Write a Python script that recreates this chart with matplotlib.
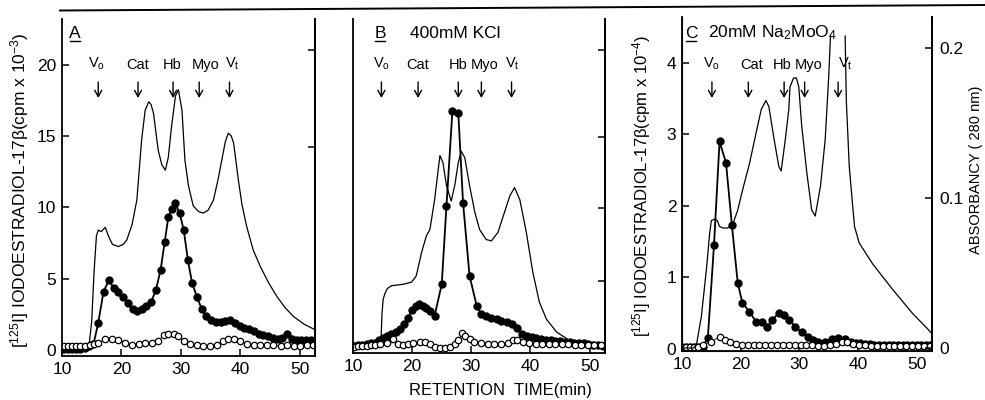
import numpy as np
import matplotlib
matplotlib.use("Agg")
import matplotlib.pyplot as plt
from matplotlib.lines import Line2D
from matplotlib.transforms import blended_transform_factory

plt.rcParams['font.family'] = ['Liberation Sans', 'DejaVu Sans']
plt.rcParams['mathtext.fontset'] = 'custom'
plt.rcParams['mathtext.rm'] = 'Liberation Sans'
plt.rcParams['mathtext.it'] = 'Liberation Sans:italic'

nan = np.nan

# ---- panel A (cpm x 10^-3) ----
a_abs_t = [10, 12, 14.0, 14.6, 15.0, 15.4, 15.8, 16.1, 16.6, 17.3, 17.8, 18.5, 19.5, 20.3, 20.9,
           21.8, 22.6, 23.4, 24.0, 24.6, 25.0, 25.4, 26.2, 26.8, 27.4, 27.9, 28.4, 29.1, 29.6,
           30.2, 30.7, 31.3, 32.1, 33.0, 33.8, 34.6, 35.5, 36.3, 36.9, 37.5, 38.0, 38.5, 38.9,
           39.7, 40.3, 41.1, 42.2, 43.4, 44.8, 46.2, 47.6, 49.0, 50.8, 52.7]
a_abs_v = [0.2, 0.2, 0.25, 0.5, 2.0, 5.5, 8.0, 8.4, 8.3, 8.6, 8.0, 7.4, 7.25, 7.4, 7.7,
           8.8, 10.5, 14.7, 16.8, 17.4, 17.2, 16.6, 14.0, 13.0, 12.6, 13.5, 15.5, 17.8, 18.25,
           16.8, 13.3, 11.5, 10.1, 9.7, 9.6, 9.8, 10.5, 12.0, 13.3, 14.6, 15.2, 15.0, 14.5,
           11.9, 10.2, 8.65, 7.0, 5.85, 4.7, 3.74, 2.95, 2.34, 1.8, 1.4]

a_fill_t = [10.3, 11.0, 11.7, 12.4, 13.1, 13.8, 14.5, 15.3, 16.1, 17.0, 17.9, 18.7, 19.5, 20.3,
            21.1, 21.9, 22.6, 23.4, 24.2, 25.0, 25.8, 26.6, 27.3, 27.9, 28.5, 29.1, 29.8, 30.5,
            31.2, 31.9, 32.7, 33.5, 34.3, 35.1, 35.9, 36.7, 37.5, 38.3, 39.1, 39.9, 40.7, 41.5,
            42.3, 43.1, 43.9, 44.7, 45.5, 46.3, 47.1, 47.9, 48.7, 49.5, 50.3, 51.1, 51.9]
a_fill_v = [0.05, 0.05, 0.05, 0.05, 0.1, 0.15, 0.25, 0.4, 1.9, 4.1, 4.9, 4.35, 4.1, 3.7,
            3.3, 2.85, 2.75, 2.9, 3.1, 3.35, 4.2, 5.6, 7.6, 9.3, 9.9, 10.3, 9.6, 8.4,
            6.3, 4.7, 3.75, 2.9, 2.4, 2.1, 1.95, 1.95, 2.05, 2.1, 1.9, 1.65, 1.55, 1.45,
            1.35, 1.15, 1.05, 0.95, 0.85, 0.8, 0.85, 1.1, 0.75, 0.7, 0.7, 0.7, 0.7]

a_open_t = [10.3, 11.0, 11.7, 12.4, 13.1, 13.8, 14.7, 15.4, 16.1, 17.2, 18.4, 19.5, 20.6, 21.75,
            22.9, 24.0, 25.1, 26.2, 27.1, 27.9, 28.8, 29.6, 30.5, 31.6, 32.7, 33.8, 35.0, 36.1,
            37.1, 38.0, 38.9, 40.0, 41.1, 42.3, 43.4, 44.5, 45.6, 46.8, 47.9, 49.0, 50.1, 51.3, 52.2]
a_open_v = [0.25, 0.3, 0.3, 0.3, 0.3, 0.3, 0.35, 0.45, 0.5, 0.75, 0.8, 0.7, 0.47, 0.35,
            0.4, 0.47, 0.5, 0.63, 1.05, 1.15, 1.15, 0.98, 0.6, 0.4, 0.35, 0.3, 0.3, 0.35,
            0.6, 0.75, 0.75, 0.6, 0.4, 0.35, 0.35, 0.35, 0.35, 0.3, 0.35, 0.3, 0.3, 0.35, 0.35]

# ---- panel B (400 mM KCl) ----
b_abs_t = [10, 13, 14.7, 14.9, 15.1, 15.4, 15.8, 16.5, 17.5, 18.5, 19.9, 20.7, 21.6, 22.4, 23.0,
           23.8, 24.4, 24.7, 25.2, 25.8, 26.6, 27.2, 27.8, 28.3, 28.9, 29.7, 30.6, 31.4, 32.5,
           33.4, 34.5, 35.6, 36.5, 37.3, 38.2, 39.3, 40.4, 41.5, 42.7, 44.4, 46.6, 48.8, 51.1, 52.5]
b_abs_v = [0.1, 0.15, 0.2, 2.5, 3.5, 3.9, 4.25, 4.45, 4.5, 4.55, 4.7, 5.15, 6.8, 7.95, 8.4,
           10.5, 12.6, 13.6, 13.1, 11.5, 10.4, 11.5, 13.1, 13.9, 13.45, 11.5, 9.6, 8.4, 7.7,
           7.6, 8.2, 9.6, 10.75, 11.35, 10.5, 8.2, 5.4, 3.3, 2.1, 1.2, 0.6, 0.25, 0.2, 0.2]

b_fill_t = [10.2, 10.9, 11.6, 12.3, 13.0, 13.7, 14.4, 15.1, 15.8, 16.5, 17.2, 17.9, 18.6, 19.3,
            20.0, 20.6, 21.2, 21.8, 22.4, 23.1, 23.8, 25.0, 25.8, 26.8, 27.8, 28.6, 29.7, 30.9,
            31.7, 32.5, 33.4, 34.3, 35.1, 36.0, 36.8, 37.7, 38.5, 39.4, 40.2, 41.0, 41.8, 42.6,
            43.4, 44.2, 45.0, 45.8, 46.6, 47.4, 48.2, 49.0, 49.8, 50.6, 51.4, 52.2]
b_fill_v = [0.2, 0.25, 0.3, 0.35, 0.4, 0.45, 0.6, 0.8, 0.9, 1.05, 1.2, 1.4, 1.75, 2.2,
            2.75, 3.05, 3.15, 3.05, 2.9, 2.7, 2.35, 4.55, 10.05, 16.7, 16.6, 10.3, 5.15, 3.05,
            2.45, 2.35, 2.2, 2.1, 2.0, 1.9, 1.75, 1.5, 1.05, 0.95, 0.85, 0.75, 0.7, 0.65,
            0.6, 0.55, 0.55, 0.5, 0.5, 0.45, 0.45, 0.4, 0.35, 0.3, 0.25, 0.2]

b_open_t = [10.2, 10.9, 11.6, 12.3, 13.0, 13.7, 14.6, 15.7, 16.8, 17.6, 18.5, 19.3, 20.2, 21.3,
            22.2, 23.0, 23.8, 24.7, 25.5, 26.4, 27.2, 27.8, 28.5, 28.9, 29.7, 30.5, 31.7, 32.8,
            33.9, 35.1, 36.2, 37.0, 37.8, 38.7, 39.8, 40.9, 42.0, 43.1, 44.2, 45.3, 46.4, 47.5,
            48.6, 49.7, 50.8, 51.9]
b_open_v = [0.15, 0.2, 0.2, 0.2, 0.25, 0.3, 0.35, 0.45, 0.7, 0.35, 0.28, 0.35, 0.4, 0.47,
            0.47, 0.35, 0.12, 0.1, 0.05, 0.12, 0.35, 0.6, 1.1, 0.95, 0.7, 0.5, 0.4, 0.35,
            0.35, 0.35, 0.4, 0.6, 0.65, 0.5, 0.4, 0.35, 0.35, 0.35, 0.35, 0.35, 0.35, 0.3,
            0.3, 0.3, 0.3, 0.3]

# ---- panel C (20 mM Na2MoO4), cpm x 10^-4 and absorbance ----
c_abs_t = [10, 12.0, 12.5, 13.3, 14.2, 14.7, 15.0, 15.6, 16.0, 16.4, 17.0, 17.8, 18.7, 19.5,
           20.3, 21.5, 22.6, 23.5, 24.3, 24.8, 25.7, 26.5, 26.9, 27.6, 28.2, 28.4, 29.0, 29.5,
           29.9, 30.4, 31.3, 32.1, 32.7, 33.6, 34.4, 35.0, 35.3, 36.5, 37.8, 38.0, 38.5, 39.1,
           39.4, 40.2, 42.5, 45.9, 49.3, 51.8, 52.5]
c_abs_v = [0.0, 0.0, 0.003, 0.021, 0.054, 0.076, 0.085, 0.086, 0.085, 0.081, 0.080, 0.080, 0.083, 0.092,
           0.105, 0.123, 0.143, 0.159, 0.165, 0.161, 0.139, 0.121, 0.118, 0.139, 0.159, 0.174, 0.180, 0.180,
           0.174, 0.148, 0.116, 0.092, 0.088, 0.108, 0.139, 0.181, 0.208, nan, 0.208, 0.165, 0.121, 0.094,
           0.081, 0.070, 0.056, 0.039, 0.023, 0.013, 0.010]

c_fill_t = [10.0, 10.7, 11.4, 12.1, 12.8, 13.5, 14.4, 15.45, 16.4, 17.5, 18.5, 19.5, 20.3, 21.5,
            22.6, 23.7, 24.5, 25.4, 26.5, 27.3, 28.2, 29.3, 30.4, 31.5, 32.4, 33.2, 34.3, 35.5,
            36.6, 37.7, 38.8, 39.6, 40.4, 41.2, 42.0, 42.8, 43.6, 44.4, 45.2, 46.0, 46.8, 47.6,
            48.4, 49.2, 50.0, 50.8, 51.6, 52.3]
c_fill_v = [0.02, 0.02, 0.02, 0.02, 0.02, 0.03, 0.15, 1.45, 2.9, 2.6, 1.73, 0.92, 0.64, 0.52,
            0.38, 0.38, 0.3, 0.41, 0.5, 0.48, 0.41, 0.31, 0.23, 0.16, 0.13, 0.09, 0.1, 0.14,
            0.15, 0.14, 0.1, 0.08, 0.08, 0.07, 0.07, 0.06, 0.06, 0.06, 0.05, 0.05, 0.05, 0.05,
            0.05, 0.05, 0.05, 0.05, 0.05, 0.05]

c_open_t = [10.0, 10.7, 11.4, 12.1, 12.8, 13.6, 15.0, 16.4, 17.25, 18.1, 19.2, 20.2, 21.2, 22.2,
            23.2, 24.2, 25.2, 26.2, 27.2, 28.2, 29.2, 30.2, 31.2, 32.2, 33.2, 34.2, 35.2, 36.2,
            37.2, 38.2, 39.2, 40.2, 41.2, 42.2, 43.2, 44.2, 45.2, 46.2, 47.2, 48.2, 49.2, 50.2,
            51.2, 52.2]
c_open_v = [0.02, 0.02, 0.02, 0.02, 0.02, 0.06, 0.1, 0.17, 0.13, 0.09, 0.07, 0.06, 0.06, 0.06,
            0.06, 0.06, 0.06, 0.06, 0.06, 0.06, 0.06, 0.06, 0.06, 0.05, 0.04, 0.04, 0.05, 0.07,
            0.09, 0.09, 0.07, 0.05, 0.05, 0.04, 0.04, 0.04, 0.04, 0.04, 0.04, 0.04, 0.04, 0.04,
            0.04, 0.04]

# marker proteins: (label, label position, arrow position) in minutes
markers_a = [('V$_\\mathrm{o}$', 15.9, 16.1), ('Cat', 22.8, 22.8), ('Hb', 28.5, 28.7),
             ('Myo', 34.2, 33.1), ('V$_\\mathrm{t}$', 38.7, 38.2)]
markers_b = [('V$_\\mathrm{o}$', 14.8, 14.8), ('Cat', 21.0, 21.0), ('Hb', 27.7, 27.8),
             ('Myo', 32.3, 31.7), ('V$_\\mathrm{t}$', 36.9, 36.8)]
markers_c = [('V$_\\mathrm{o}$', 15.0, 15.1), ('Cat', 21.9, 21.3), ('Hb', 27.1, 27.4),
             ('Myo', 31.6, 30.9), ('V$_\\mathrm{t}$', 37.8, 36.6)]

W, H = 985, 400
fig = plt.figure(figsize=(W / 100, H / 100), dpi=100)


def px_axes(left, right, top, bottom):
    return fig.add_axes([left / W, 1 - bottom / H, (right - left) / W, (bottom - top) / H])


def style(ax):
    ax.spines['top'].set_visible(False)
    for s in ['left', 'right', 'bottom']:
        ax.spines[s].set_linewidth(1.3)
    ax.tick_params(direction='in', length=5, width=1.1, labelsize=12.5, pad=4)
    ax.set_xlim(10, 52.6)
    ax.set_xticks([10, 20, 30, 40, 50])


def draw_series(ax, abs_t, abs_v, fill_t, fill_v, open_t, open_v, abs_ax=None):
    (abs_ax or ax).plot(abs_t, abs_v, color='black', lw=0.9)
    ax.plot(fill_t, fill_v, color='black', lw=1.3, marker='o', ms=5, mfc='black', mec='black')
    ax.plot(open_t, open_v, color='black', lw=0.6, marker='o', ms=4.6, mfc='white', mec='black',
            mew=0.9)


def draw_markers(ax, markers):
    tr = blended_transform_factory(ax.transData, fig.transFigure)
    for name, t_lab, t in markers:
        ax.text(t_lab, 1 - 72 / H, name, transform=tr, ha='center', va='bottom', fontsize=10.5)
        ax.annotate('', xy=(t, 1 - 98 / H), xytext=(t, 1 - 82 / H), xycoords=tr, textcoords=tr,
                    arrowprops=dict(arrowstyle='->,head_length=0.45,head_width=0.25', lw=1.0,
                                    color='black', shrinkA=0, shrinkB=0))


def panel_letter(letter, xpx):
    fig.text(xpx / W, 1 - 33 / H, letter, ha='center', va='center', fontsize=12.5)
    fig.add_artist(Line2D([(xpx - 5) / W, (xpx + 5) / W], [1 - 41 / H] * 2, color='black', lw=1.0))


# panel A
axA = px_axes(62, 315, 19, 356)
style(axA)
draw_series(axA, a_abs_t, a_abs_v, a_fill_t, a_fill_v, a_open_t, a_open_v)
axA.set_ylim(-0.42, 23.2)
axA.set_yticks([0, 5, 10, 15, 20])
axA.set_yticklabels(['0', '5', '10', '15', '20'])
axR = axA.secondary_yaxis('right')
axR.set_yticks([14.2, 21.0])
axR.tick_params(direction='in', length=5, width=1.1, labelright=False)
axR.spines['right'].set_linewidth(1.3)
draw_markers(axA, markers_a)
panel_letter('A', 75)

# panel B
axB = px_axes(353, 605, 19, 353)
style(axB)
draw_series(axB, b_abs_t, b_abs_v, b_fill_t, b_fill_v, b_open_t, b_open_v)
axB.set_ylim(-0.28, 23.2)
axB.set_yticks([])
axBR = axB.secondary_yaxis('right')
axBR.set_yticks([4.8, 9.9, 14.9, 21.0])
axBR.tick_params(direction='in', length=5, width=1.1, labelright=False)
axBR.spines['right'].set_linewidth(1.3)
draw_markers(axB, markers_b)
panel_letter('B', 380)
fig.text(455 / W, 1 - 33 / H, '400mM KCl', ha='center', va='center', fontsize=12.5)

# panel C
axC = px_axes(682, 932, 17, 351)
style(axC)
axC2 = axC.twinx()
axC2.spines['top'].set_visible(False)
axC2.spines['right'].set_linewidth(1.3)
axC2.tick_params(direction='in', length=5, width=1.1, labelsize=12.5, pad=5)
draw_series(axC, c_abs_t, c_abs_v, c_fill_t, c_fill_v, c_open_t, c_open_v, abs_ax=axC2)
axC.set_ylim(-0.03, 4.64)
axC.set_yticks([0, 1, 2, 3, 4])
axC2.set_ylim(-0.002, 0.2207)
axC2.set_yticks([0, 0.1, 0.2])
axC2.set_yticklabels(['0', '0.1', '0.2'])
draw_markers(axC, markers_c)
panel_letter('C', 691)
fig.text(772 / W, 1 - 33 / H, '20mM Na$_2$MoO$_4$', ha='center', va='center', fontsize=12.5)

# axis titles
fig.text(20 / W, 1 - 190 / H, '[$^{125}$I] IODOESTRADIOL-17β(cpm x 10$^{-3}$)', rotation=90,
         ha='center', va='center', fontsize=12.5)
fig.text(642 / W, 1 - 186 / H, '[$^{125}$I] IODOESTRADIOL-17β(cpm x 10$^{-4}$)', rotation=90,
         ha='center', va='center', fontsize=12)
fig.text(976 / W, 1 - 170 / H, 'ABSORBANCY ( 280 nm)', rotation=90, ha='center', va='center',
         fontsize=10.5)
fig.text(500 / W, 1 - 390 / H, 'RETENTION  TIME(min)', ha='center', va='center', fontsize=12)

# page rule across the top
fig.add_artist(Line2D([60 / W, 1.0], [1 - 10.5 / H, 1 - 5 / H], color='black', lw=1.4))

fig.savefig('out.png', dpi=100)
